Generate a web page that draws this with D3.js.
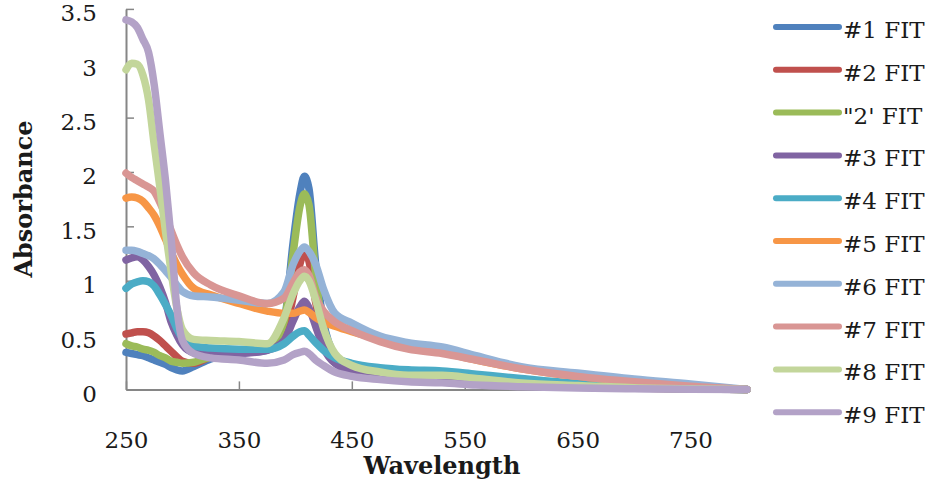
<!DOCTYPE html>
<html>
<head>
<meta charset="utf-8">
<script src="https://cdnjs.cloudflare.com/ajax/libs/d3/7.8.5/d3.min.js"></script>
<style>
  body { margin: 0; background: #fff; }
  svg { display: block; }
</style>
</head>
<body>
<div id="chart"><svg></svg></div>
<script>
'use strict';

// wavelength grid shared by all fits (nm)
var wavelengths = [250, 255, 260, 265, 270, 275, 280, 285, 290, 295, 300, 310, 325, 350, 375, 390, 398, 404, 408, 412, 418, 425, 435, 450, 475, 500, 530, 560, 600, 650, 700, 750, 800];

var fit1  = [0.34, 0.33, 0.32, 0.31, 0.29, 0.27, 0.25, 0.23, 0.20, 0.18, 0.17, 0.21, 0.28, 0.33, 0.36, 0.62, 1.35, 1.80, 1.96, 1.85, 1.15, 0.62, 0.31, 0.19, 0.15, 0.12, 0.10, 0.08, 0.05, 0.03, 0.015, 0.005, 0];
var fit2  = [0.51, 0.52, 0.53, 0.53, 0.52, 0.49, 0.45, 0.40, 0.35, 0.30, 0.26, 0.24, 0.30, 0.35, 0.38, 0.50, 0.85, 1.15, 1.27, 1.18, 0.80, 0.45, 0.27, 0.18, 0.13, 0.10, 0.08, 0.06, 0.04, 0.025, 0.012, 0.005, 0];
var fit2b = [0.42, 0.40, 0.39, 0.37, 0.36, 0.34, 0.31, 0.29, 0.26, 0.25, 0.24, 0.25, 0.30, 0.34, 0.37, 0.62, 1.25, 1.68, 1.80, 1.70, 1.05, 0.55, 0.30, 0.20, 0.15, 0.12, 0.10, 0.07, 0.05, 0.03, 0.015, 0.005, 0];
var fit3  = [1.19, 1.21, 1.22, 1.19, 1.13, 1.05, 0.94, 0.80, 0.62, 0.50, 0.41, 0.34, 0.33, 0.33, 0.36, 0.45, 0.63, 0.76, 0.81, 0.75, 0.58, 0.38, 0.24, 0.17, 0.12, 0.09, 0.07, 0.05, 0.035, 0.02, 0.01, 0.004, 0];
var fit4  = [0.93, 0.97, 0.99, 1.00, 0.99, 0.95, 0.87, 0.78, 0.68, 0.56, 0.47, 0.40, 0.38, 0.37, 0.37, 0.42, 0.49, 0.53, 0.54, 0.50, 0.43, 0.36, 0.29, 0.24, 0.20, 0.18, 0.17, 0.14, 0.10, 0.055, 0.025, 0.01, 0];
var fit5  = [1.76, 1.77, 1.76, 1.73, 1.67, 1.60, 1.50, 1.38, 1.26, 1.15, 1.06, 0.93, 0.87, 0.79, 0.72, 0.70, 0.70, 0.72, 0.73, 0.71, 0.66, 0.62, 0.58, 0.53, 0.46, 0.40, 0.34, 0.27, 0.19, 0.12, 0.07, 0.03, 0];
var fit6  = [1.28, 1.28, 1.27, 1.25, 1.23, 1.20, 1.15, 1.09, 1.03, 0.96, 0.90, 0.86, 0.85, 0.82, 0.79, 0.90, 1.15, 1.27, 1.31, 1.27, 1.15, 0.92, 0.70, 0.61, 0.49, 0.43, 0.39, 0.31, 0.21, 0.15, 0.095, 0.05, 0];
var fit7  = [1.99, 1.95, 1.92, 1.89, 1.86, 1.82, 1.72, 1.60, 1.46, 1.33, 1.22, 1.07, 0.96, 0.86, 0.79, 0.84, 0.98, 1.08, 1.10, 1.05, 0.85, 0.72, 0.62, 0.54, 0.44, 0.37, 0.33, 0.27, 0.19, 0.12, 0.07, 0.03, 0];
var fit8  = [2.94, 3.00, 2.99, 2.89, 2.66, 2.25, 1.86, 1.45, 1.08, 0.75, 0.55, 0.46, 0.45, 0.44, 0.42, 0.66, 0.88, 1.00, 1.04, 1.00, 0.82, 0.56, 0.33, 0.22, 0.16, 0.13, 0.13, 0.10, 0.06, 0.035, 0.015, 0.005, 0];
var fit9  = [3.40, 3.38, 3.33, 3.22, 3.10, 2.80, 2.36, 1.92, 1.38, 0.76, 0.45, 0.33, 0.29, 0.27, 0.24, 0.27, 0.32, 0.34, 0.35, 0.33, 0.27, 0.22, 0.16, 0.12, 0.09, 0.07, 0.06, 0.04, 0.025, 0.012, 0.006, 0.002, 0];

var seriesNames = ['#1 FIT', '#2 FIT', '"2\' FIT', '#3 FIT', '#4 FIT', '#5 FIT', '#6 FIT', '#7 FIT', '#8 FIT', '#9 FIT'];
var seriesValues = [fit1, fit2, fit2b, fit3, fit4, fit5, fit6, fit7, fit8, fit9];
var seriesColors = ['#4f81bd', '#c0504d', '#9bbb59', '#8064a2', '#4bacc6', '#f79646', '#95b3d7', '#d99694', '#c3d69b', '#b3a2c7'];

var xTicks = [250, 350, 450, 550, 650, 750];
var yTicks = [0, 0.5, 1, 1.5, 2, 2.5, 3, 3.5];

var w = 938, h = 486;
var plotLeft = 126, plotRight = 747, plotTop = 8.9, plotBottom = 389.4;
var axisColor = '#868686';
var font = '"DejaVu Serif", "Liberation Serif", serif';

var svg = d3.select('#chart svg')
    .attr('width', w)
    .attr('height', h)
    .style('font-family', font);

var x = d3.scaleLinear().domain([250, 800]).range([plotLeft, plotRight]);
var y = d3.scaleLinear().domain([0, 3.5]).range([plotBottom, plotTop]);

// axes, ticks point into the plot like the original
var yAxis = svg.append('g')
    .attr('transform', 'translate(' + plotLeft + ',0)')
    .call(d3.axisLeft(y).tickValues(yTicks).tickFormat(d3.format('~g'))
      .tickSizeInner(-8).tickSizeOuter(0).tickPadding(29));
var xAxis = svg.append('g')
    .attr('transform', 'translate(0,' + plotBottom + ')')
    .call(d3.axisBottom(x).tickValues(xTicks).tickFormat(d3.format('d'))
      .tickSizeInner(-8).tickSizeOuter(0).tickPadding(42));

[xAxis, yAxis].forEach(function(a) {
  a.select('.domain').attr('stroke', axisColor).attr('stroke-width', 2);
  a.selectAll('.tick line').attr('stroke', axisColor).attr('stroke-width', 1.5);
  a.selectAll('.tick text')
    .attr('fill', '#1a1a1a')
    .style('font-family', font)
    .style('font-size', '23px');
});
yAxis.selectAll('.tick text').attr('dy', '0.52em');

var line = d3.line()
    .x(function(d, i) { return x(wavelengths[i]); })
    .y(function(d) { return y(d); })
    .curve(d3.curveMonotoneX);

svg.append('g').selectAll('path')
    .data(seriesValues)
  .enter().append('path')
    .attr('d', line)
    .attr('fill', 'none')
    .attr('stroke', function(d, i) { return seriesColors[i]; })
    .attr('stroke-width', 7.5)
    .attr('stroke-linejoin', 'round')
    .attr('stroke-linecap', 'round');

// axis titles
svg.append('text')
    .attr('x', 442)
    .attr('y', 474)
    .attr('text-anchor', 'middle')
    .attr('font-weight', 'bold')
    .style('font-size', '24px')
    .attr('fill', '#1a1a1a')
    .text('Wavelength');

svg.append('text')
    .attr('transform', 'translate(32,199) rotate(-90)')
    .attr('text-anchor', 'middle')
    .attr('font-weight', 'bold')
    .style('font-size', '24px')
    .attr('fill', '#1a1a1a')
    .text('Absorbance');

// legend
var legend = svg.append('g').selectAll('g')
    .data(seriesNames)
  .enter().append('g')
    .attr('transform', function(d, i) { return 'translate(776,' + (27 + i * 42.8) + ')'; });

legend.append('line')
    .attr('x1', 0).attr('x2', 63)
    .attr('stroke', function(d, i) { return seriesColors[i]; })
    .attr('stroke-width', 6)
    .attr('stroke-linecap', 'round');

legend.append('text')
    .attr('x', 67)
    .attr('y', 11)
    .style('font-size', '23px')
    .attr('fill', '#1a1a1a')
    .text(function(d) { return d; });
</script>
</body>
</html>
